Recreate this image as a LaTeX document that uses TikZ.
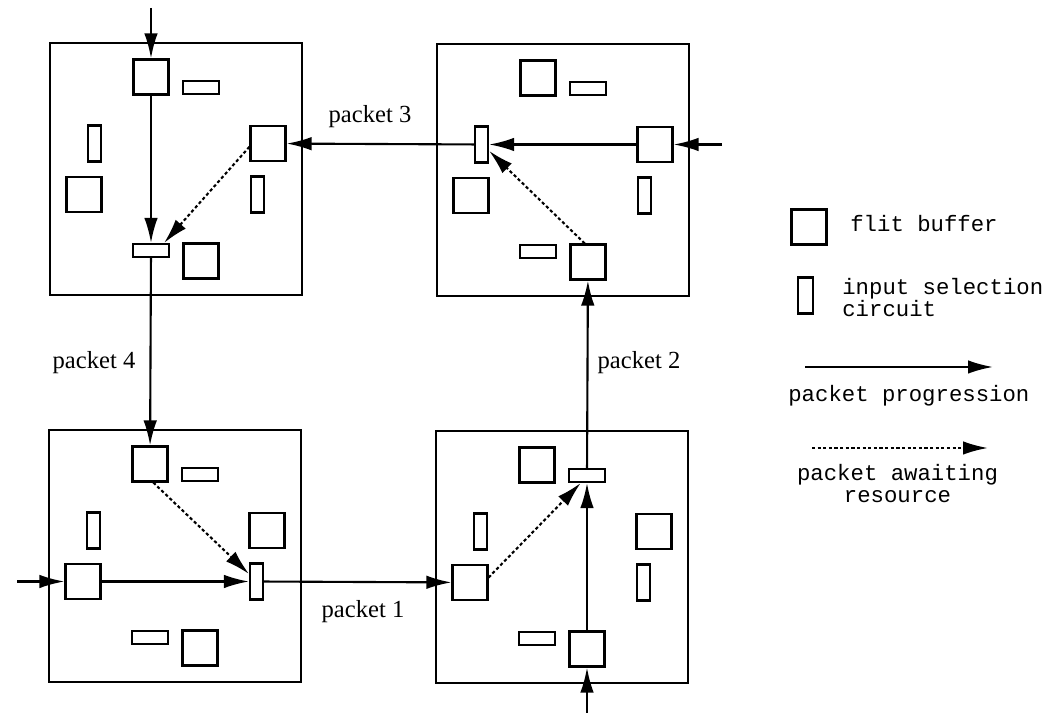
\documentclass[tikz,border=0pt]{standalone}
\usepackage{fontspec}
\setmainfont{Liberation Serif}
\setmonofont{Liberation Mono}
\usetikzlibrary{arrows.meta}
\usetikzlibrary{calc}

\tikzset{
  router/.style={draw, line width=1.3pt, minimum size=5.04cm, inner sep=0pt},
  flit/.style={draw, line width=1.2pt, minimum size=0.7cm, inner sep=0pt},
  selh/.style={draw, line width=1.2pt, minimum width=0.72cm, minimum height=0.26cm, inner sep=0pt},
  selv/.style={draw, line width=1.2pt, minimum width=0.26cm, minimum height=0.72cm, inner sep=0pt},
  prog/.style={line width=1.2pt, -{Latex[length=5mm,width=2.7mm]}},
  wait/.style={prog, dash pattern=on 1.8pt off 1.4pt},
  plabel/.style={font=\fontsize{14}{16}\selectfont},
  legend/.style={font=\ttfamily\fontsize{12.7}{12.7}\selectfont, inner sep=0pt}
}

\begin{document}
\begin{tikzpicture}[x=0.02cm, y=-0.02cm]

\useasboundingbox (0,0) rectangle (1046,715);

% four routers, same layout in each one
\foreach \r/\px/\py in {tl/50/43, tr/437/44, bl/49/430, br/436/431} {
  \begin{scope}[shift={(\px,\py)}]
    \node[router] (\r) at (126,126) {};
    % flit buffers and input selection circuits
    \node[flit] (\r-bufN) at (101,34) {};
    \node[selh] (\r-selN) at (151,44.5) {};
    \node[selv] (\r-selW) at (44.5,100.5) {};
    \node[flit] (\r-bufW) at (34,151.5) {};
    \node[flit] (\r-bufE) at (218,100.5) {};
    \node[selv] (\r-selE) at (207.5,151.5) {};
    \node[selh] (\r-selS) at (101,207.5) {};
    \node[flit] (\r-bufS) at (151,218) {};
  \end{scope}
}

% free ends of the incoming links
\coordinate (inTL) at (151,8);
\coordinate (inTR) at (722,144.5);
\coordinate (inBL) at (17,581.5);
\coordinate (inBR) at (587,713);

\draw[prog] (inTL) -- (tl-bufN);
\draw[prog] (inTR) -- (tr-bufE);
\draw[prog] (inBL) -- (bl-bufW);
\draw[prog] (inBR) -- (br-bufS);

% packet 1
\draw[prog] (bl-bufW) -- (bl-selE);
\draw[prog] (bl-selE) -- (br-bufW);
\node[plabel] (p1) at (363,612) {packet 1};

% packet 2
\draw[prog] (br-bufS) -- (br-selN);
\draw[prog] (br-selN) -- (tr-bufS);
\node[plabel] (p2) at (639,363) {packet 2};

% packet 3
\draw[prog] (tr-bufE) -- (tr-selW);
\draw[prog] (tr-selW) -- (tl-bufE);
\node[plabel] (p3) at (370,117) {packet 3};

% packet 4
\draw[prog] (tl-bufN) -- (tl-selS);
\draw[prog] (tl-selS) -- (bl-bufN);
\node[plabel] (p4) at (94,363) {packet 4};

% packets waiting for a resource
\draw[wait] (tl-bufE.190) -- (tl-selS.30);
\draw[wait] (tr-bufS.100) -- (tr-selW.-40);
\draw[wait] (br-bufW.15) -- (br-selN.230);
\draw[wait] (bl-bufN.280) -- (bl-selE.135);

% legend
\node[flit] (keybuf) at (809,227) {};
\node[legend, anchor=base west] (keybuftxt) at (850,232) {flit buffer};
\node[selv, minimum width=0.3cm] (keysel) at (805.5,295.5) {};
\node[legend, anchor=base west, align=left] (keyseltxt) at (842,317) {input selection\\circuit};

\coordinate (kp1) at (805,367);
\coordinate (kp2) at (993,367);
\draw[prog] (kp1) -- (kp2);
\node[legend, anchor=base west] (kptxt) at (788,402) {packet progression};

\coordinate (kw1) at (812,448);
\coordinate (kw2) at (988,448);
\draw[wait] (kw1) -- (kw2);
\node[legend, anchor=base, align=center] (kwtxt) at (897.5,503) {packet awaiting\\resource};

\end{tikzpicture}
\end{document}
